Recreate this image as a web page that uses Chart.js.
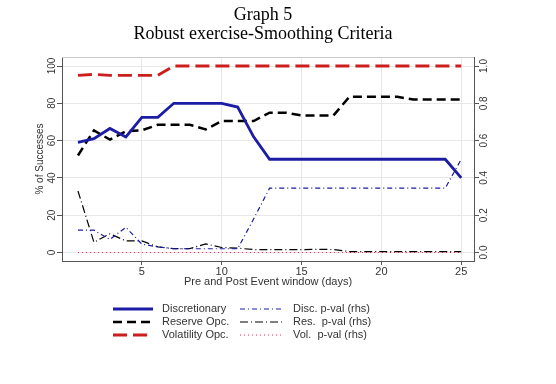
<!DOCTYPE html>
<html>
<head>
<meta charset="utf-8">
<script src="https://cdn.jsdelivr.net/npm/chart.js@4.4.0/dist/chart.umd.min.js"></script>
<style>
  body { margin: 0; background: #fff; }
  #wrap { width: 556px; height: 384px; }
</style>
</head>
<body>
<div id="wrap"><canvas id="grafico" width="556" height="384"></canvas></div>
<script>
// ventana de evento (dias)
const dias = [1, 2, 3, 4, 5, 6, 7, 8, 9, 10, 11, 12, 13, 14, 15, 16, 17, 18, 19, 20, 21, 22, 23, 24, 25];

// % de exitos (eje izquierdo)
const discrecional = [59, 61, 66.5, 62, 72.5, 72.5, 80, 80, 80, 80, 78, 62, 50, 50, 50, 50, 50, 50, 50, 50, 50, 50, 50, 50, 40];
const reservaOpc = [52, 65.5, 60.5, 65, 65.5, 68.5, 68.5, 68.5, 66, 70.5, 70.5, 70.5, 75, 75, 73.5, 73.5, 73.5, 83.5, 83.5, 83.5, 83.5, 82, 82, 82, 82];
const volatilidadOpc = [95, 95.5, 95, 95, 95, 95, 100, 100, 100, 100, 100, 100, 100, 100, 100, 100, 100, 100, 100, 100, 100, 100, 100, 100, 100];

// p-valores (eje derecho)
const discPval = [0.12, 0.12, 0.07, 0.135, 0.045, 0.03, 0.02, 0.02, 0.02, 0.02, 0.02, 0.18, 0.345, 0.345, 0.345, 0.345, 0.345, 0.345, 0.345, 0.345, 0.345, 0.345, 0.345, 0.345, 0.5];
const resPval = [0.33, 0.055, 0.10, 0.062, 0.062, 0.03, 0.021, 0.021, 0.046, 0.027, 0.023, 0.016, 0.015, 0.015, 0.015, 0.017, 0.016, 0.005, 0.005, 0.005, 0.005, 0.005, 0.005, 0.005, 0.005];
const volPval = [0, 0, 0, 0, 0, 0, 0, 0, 0, 0, 0, 0, 0, 0, 0, 0, 0, 0, 0, 0, 0, 0, 0, 0, 0];

// marcas de los ejes
const ticksX = [5, 10, 15, 20, 25];
const ticksIzq = [0, 20, 40, 60, 80, 100];
const ticksDer = [0, 0.2, 0.4, 0.6, 0.8, 1.0];

const azul = 'rgb(28, 28, 165)';
const rojo = 'rgb(205, 30, 30)';

const puntos = (ys) => dias.map((d, i) => ({ x: d, y: ys[i] }));

Chart.defaults.font.family = '"Liberation Sans", Arial, sans-serif';
Chart.defaults.color = '#333';

// marco superior del area de grafico
const marco = {
  id: 'marco',
  beforeDatasetsDraw(chart) {
    const { ctx, chartArea: a } = chart;
    ctx.save();
    ctx.strokeStyle = '#c8c8c8';
    ctx.lineWidth = 1;
    ctx.beginPath();
    ctx.moveTo(a.left, a.top + 0.5);
    ctx.lineTo(a.right, a.top + 0.5);
    ctx.stroke();
    ctx.restore();
  }
};

// leyenda en dos columnas
const leyenda = {
  id: 'leyenda',
  afterDraw(chart) {
    const ctx = chart.ctx;
    const columnas = [{ x0: 113, x1: 153, tx: 162 }, { x0: 240, x1: 283, tx: 293 }];
    chart.data.datasets.forEach((ds, i) => {
      const col = columnas[Math.floor(i / 3)];
      const y = 309 + (i % 3) * 13;
      ctx.save();
      ctx.strokeStyle = ds.borderColor;
      ctx.lineWidth = ds.borderWidth;
      ctx.setLineDash(ds.borderDash || []);
      ctx.beginPath();
      ctx.moveTo(col.x0, y);
      ctx.lineTo(col.x1, y);
      ctx.stroke();
      ctx.setLineDash([]);
      ctx.fillStyle = '#333';
      ctx.font = '11px "Liberation Sans"';
      ctx.textBaseline = 'middle';
      ctx.fillText(ds.label, col.tx, y);
      ctx.restore();
    });
  }
};

const fijarTicks = (valores) => (scale) => {
  scale.ticks = valores.map((v) => ({ value: v }));
};

const config = {
  type: 'line',
  data: {
    datasets: [
      { label: 'Discretionary', data: puntos(discrecional), borderColor: azul, borderWidth: 2.8, yAxisID: 'y' },
      { label: 'Reserve Opc.', data: puntos(reservaOpc), borderColor: '#000', borderWidth: 2.5, borderDash: [9, 5], yAxisID: 'y' },
      { label: 'Volatility Opc.', data: puntos(volatilidadOpc), borderColor: rojo, borderWidth: 2.8, borderDash: [14, 6], yAxisID: 'y' },
      { label: 'Disc. p-val (rhs)', data: puntos(discPval), borderColor: azul, borderWidth: 1.2, borderDash: [5, 3, 1, 3], yAxisID: 'y2' },
      { label: 'Res.  p-val (rhs)', data: puntos(resPval), borderColor: '#000', borderWidth: 1.2, borderDash: [8, 3, 1, 3], yAxisID: 'y2' },
      { label: 'Vol.  p-val (rhs)', data: puntos(volPval), borderColor: 'rgb(210, 60, 90)', borderWidth: 1.2, borderDash: [1, 3], yAxisID: 'y2' }
    ]
  },
  options: {
    responsive: false,
    animation: false,
    layout: { padding: { left: 0, right: 30, top: 0, bottom: 95 } },
    elements: { point: { radius: 0 }, line: { tension: 0, borderCapStyle: 'butt' } },
    plugins: {
      legend: { display: false },
      tooltip: { enabled: false },
      title: {
        display: true,
        text: ['Graph 5', 'Robust exercise-Smoothing Criteria'],
        color: '#000',
        font: { family: '"Liberation Serif", "Times New Roman", serif', size: 18, weight: 'normal', lineHeight: 1.1 },
        padding: { top: 5, bottom: 12.4 }
      }
    },
    scales: {
      x: {
        type: 'linear',
        min: 0,
        max: 25.8,
        afterBuildTicks: fijarTicks(ticksX),
        afterFit: (s) => { s.height = 28; },
        grid: { color: '#e8e8e8', tickColor: '#555', tickLength: 4 },
        border: { color: '#555' },
        ticks: { font: { size: 11 }, padding: 0, maxRotation: 0 },
        title: { display: true, text: 'Pre and Post Event window (days)', font: { size: 11 }, padding: 0 }
      },
      y: {
        position: 'left',
        min: -4.56,
        max: 104.83,
        afterBuildTicks: fijarTicks(ticksIzq),
        afterFit: (s) => { s.width = 62; },
        grid: { color: '#e8e8e8', tickColor: '#555', tickLength: 5 },
        border: { color: '#555' },
        ticks: { font: { size: 10 }, minRotation: 90, maxRotation: 90, crossAlign: 'center', padding: -3.3 },
        title: { display: true, text: '% of Successes', font: { size: 10 }, padding: { top: 34, bottom: 0 } }
      },
      y2: {
        position: 'right',
        min: -0.0456,
        max: 1.0483,
        afterBuildTicks: fijarTicks(ticksDer),
        afterFit: (s) => { s.width = 52; },
        grid: { drawOnChartArea: false, tickColor: '#555', tickLength: 5 },
        border: { color: '#555' },
        ticks: {
          font: { size: 10 }, minRotation: 90, maxRotation: 90, crossAlign: 'center', padding: -2,
          callback: (v) => Number(v).toFixed(1)
        }
      }
    }
  },
  plugins: [marco, leyenda]
};

new Chart(document.getElementById('grafico'), config);
</script>
</body>
</html>
